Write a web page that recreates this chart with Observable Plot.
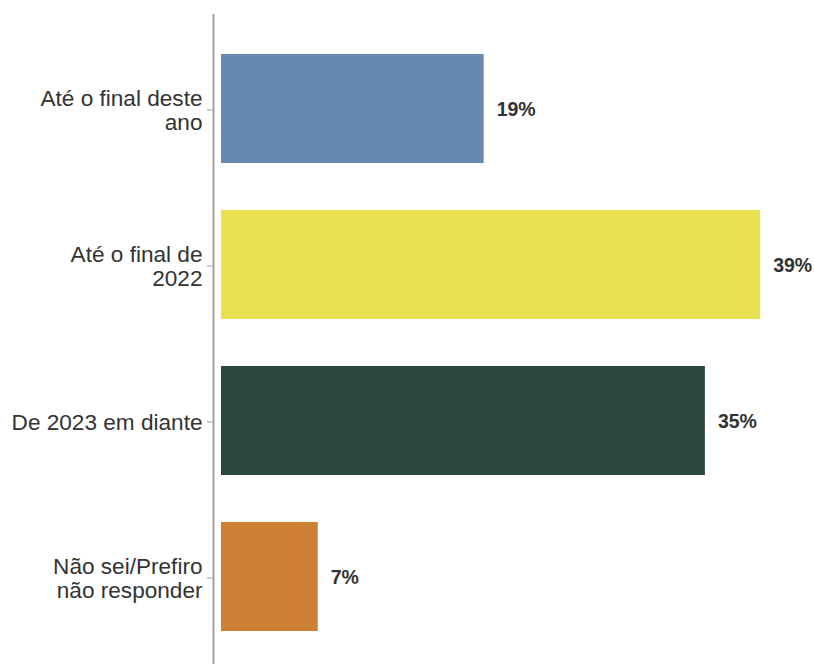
<!DOCTYPE html>
<html>
<head>
<meta charset="utf-8">
<script src="https://cdn.jsdelivr.net/npm/d3@7"></script>
<script src="https://cdn.jsdelivr.net/npm/@observablehq/plot@0.6"></script>
<style>
  html, body { margin: 0; padding: 0; background: #fff; }
  svg { display: block; }
</style>
</head>
<body>
<div id="chart"></div>
<script>
const categories = ["Até o final deste\nano", "Até o final de\n2022", "De 2023 em diante", "Não sei/Prefiro\nnão responder"];
const values = [19, 39, 35, 7];
const colors = ["#6589B1", "#E9E052", "#2B473D", "#CD8134"];

const data = categories.map((c, i) => ({category: c, value: values[i]}));

const chart = Plot.plot({
  width: 815,
  height: 664,
  marginLeft: 221,
  marginRight: 41,
  marginTop: 30,
  marginBottom: 9,
  style: {fontFamily: "Liberation Sans, Arial, sans-serif", color: "#333", background: "#fff"},
  x: {domain: [0, 40], axis: null},
  y: {domain: categories, paddingInner: 0.3, paddingOuter: 0.15, label: null},
  color: {domain: categories, range: colors},
  marks: [
    Plot.barX(data, {y: "category", x: "value", fill: "category"}),
    Plot.text(data, {
      y: "category", x: "value", text: d => d.value + "%",
      textAnchor: "start", dx: 12.5, dy: 1, fontWeight: "bold", fontSize: 19.5, fill: "#333"
    }),
    Plot.ruleX([0], {stroke: "#a0a0a0", strokeWidth: 2, dx: -8, insetTop: -16, insetBottom: -9}),
    Plot.axisY({
      dx: -8, dy: 1, tickSize: 6, tickPadding: 5, stroke: "#a0a0a0", fontSize: 22.6,
      fill: "#333", lineHeight: 1.08, label: null
    })
  ]
});
document.getElementById("chart").appendChild(chart);
</script>
</body>
</html>
